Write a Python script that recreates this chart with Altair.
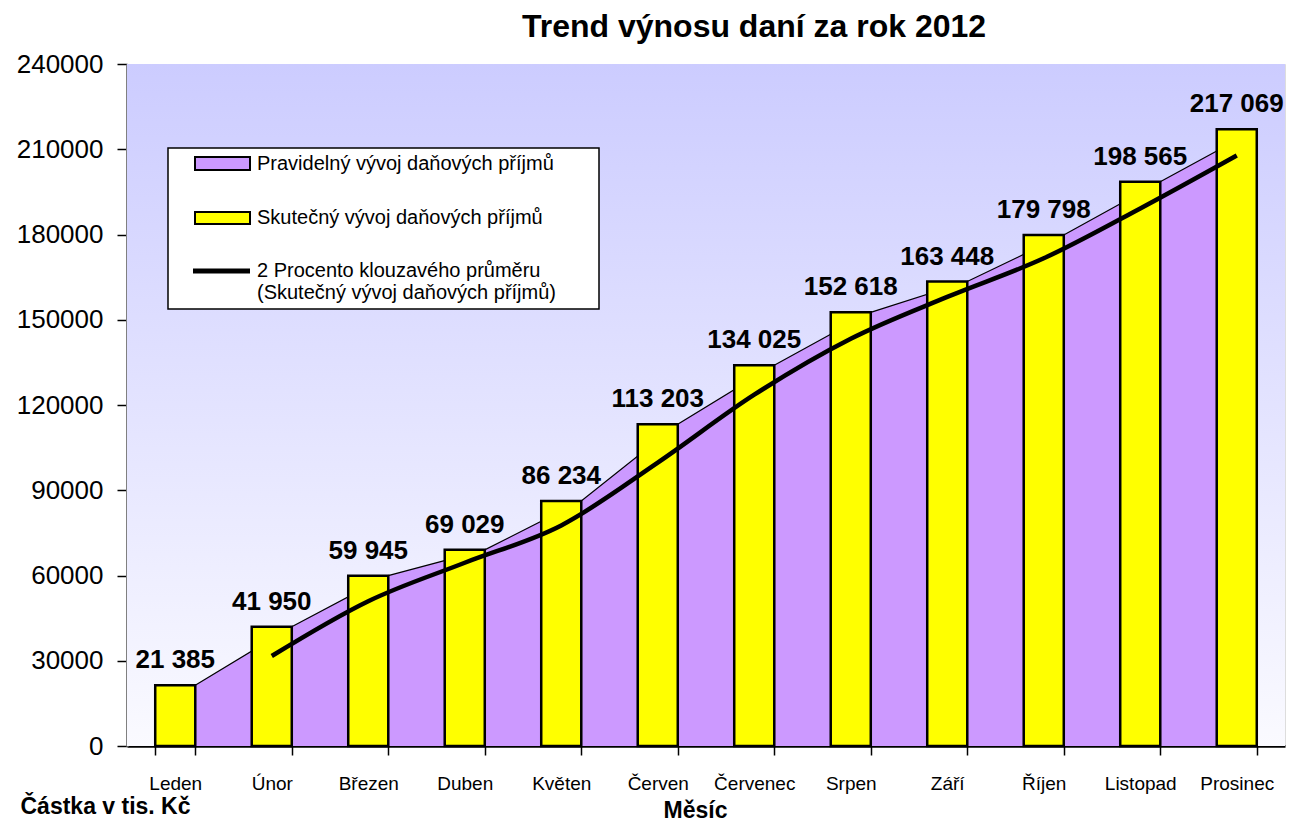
import altair as alt
import pandas as pd

months = ["Leden", "Únor", "Březen", "Duben", "Květen", "Červen",
          "Červenec", "Srpen", "Září", "Říjen", "Listopad", "Prosinec"]
actual = [21385, 41950, 59945, 69029, 86234, 113203,
          134025, 152618, 163448, 179798, 198565, 217069]
regular = [21385, 41950, 59945, 69029, 86234, 113203,
           134025, 152618, 163448, 179798, 198565, 217069]
ma_months = months[1:]
moving_avg = [31668, 50948, 64487, 77632, 99719, 123614,
              143322, 158033, 171623, 189182, 207817]
y_ticks = [0, 30000, 60000, 90000, 120000, 150000, 180000, 210000, 240000]

legend_labels = ["Pravidelný vývoj daňových příjmů",
                 "Skutečný vývoj daňových příjmů",
                 "2 Procento klouzavého průměru\n(Skutečný vývoj daňových příjmů)"]

W, H = 1158, 682
FONT = "Liberation Sans"

df = pd.DataFrame({
    "month": months,
    "actual": actual,
    "regular": regular,
    "label": [f"{v:,}".replace(",", " ") for v in actual],
})
ma_df = pd.DataFrame({"month": ma_months, "ma": moving_avg})
one = pd.DataFrame({"a": [0]})

x_enc = alt.X(
    "month:N", sort=months,
    scale=alt.Scale(domain=months, paddingInner=0.585, paddingOuter=0.2925),
    axis=alt.Axis(
        title="Měsíc", titleFont=FONT, titleFontSize=23, titleFontWeight="bold",
        titleColor="black", titleX=568, titleY=64, titleAlign="center",
        titleBaseline="middle",
        labelFont=FONT, labelFontSize=19, labelColor="black", labelAngle=0,
        labelPadding=19, tickBand="extent", tickSize=9, tickColor="black",
        tickWidth=1.5, domainColor="black", domainWidth=2.5,
    ),
)

y_axis = alt.Axis(
    title="Částka v tis. Kč", titleFont=FONT, titleFontSize=23,
    titleFontWeight="bold", titleColor="black", titleAngle=0,
    titleX=-22, titleY=742, titleAlign="center", titleBaseline="middle",
    values=y_ticks, format="d", labelFont=FONT, labelFontSize=26,
    labelColor="black", labelPadding=14, tickSize=10, tickColor="black",
    tickWidth=1.5, domainColor="#808080", domainWidth=3, grid=False,
)
y_scale = alt.Scale(domain=[0, 240000], nice=False, zero=True)

background = alt.Chart(one).mark_rect(
    fill=alt.Gradient(
        gradient="linear",
        stops=[alt.GradientStop(color="#CCCCFF", offset=0),
               alt.GradientStop(color="#FAFAFF", offset=1)],
        x1=0, x2=0, y1=0, y2=1,
    )
).encode(x=alt.value(0), x2=alt.value(W), y=alt.value(0), y2=alt.value(H))

area = alt.Chart(df).mark_area(color="#CC99FF", opacity=1, xOffset=20).encode(
    x=x_enc,
    y=alt.Y("regular:Q", scale=y_scale, axis=y_axis),
)
area_edge = alt.Chart(df).mark_line(color="black", strokeWidth=1.2, xOffset=20).encode(
    x=x_enc,
    y=alt.Y("regular:Q", scale=y_scale, axis=y_axis),
)

bars = alt.Chart(df).mark_bar(color="#FFFF00", stroke="black", strokeWidth=2.5).encode(
    x=x_enc,
    y=alt.Y("actual:Q", scale=y_scale, axis=y_axis),
)

ma_line = alt.Chart(ma_df).mark_line(color="black", strokeWidth=4.5, interpolate="monotone").encode(
    x=x_enc,
    y=alt.Y("ma:Q", scale=y_scale, axis=y_axis),
)

labels = alt.Chart(df).mark_text(
    font=FONT, fontSize=26, fontWeight="bold", color="black",
    baseline="middle", align="center", dy=-25,
).encode(
    x=x_enc,
    y=alt.Y("actual:Q", scale=y_scale, axis=y_axis),
    text="label:N",
)

# legend (drawn with marks)
leg_box = alt.Chart(one).mark_rect(fill="white", stroke="black", strokeWidth=1.5).encode(
    x=alt.value(41), x2=alt.value(472), y=alt.value(84), y2=alt.value(245))
leg_sw1 = alt.Chart(one).mark_rect(fill="#CC99FF", stroke="black", strokeWidth=2).encode(
    x=alt.value(68), x2=alt.value(123), y=alt.value(93), y2=alt.value(106))
leg_sw2 = alt.Chart(one).mark_rect(fill="#FFFF00", stroke="black", strokeWidth=2).encode(
    x=alt.value(68), x2=alt.value(123), y=alt.value(148), y2=alt.value(160))
leg_ln = alt.Chart(one).mark_rule(color="black", strokeWidth=5).encode(
    x=alt.value(66), x2=alt.value(123), y=alt.value(207))
leg_t1 = alt.Chart(one).mark_text(font=FONT, fontSize=20, align="left", baseline="middle", color="black").encode(
    x=alt.value(130), y=alt.value(100), text=alt.value(legend_labels[0]))
leg_t2 = alt.Chart(one).mark_text(font=FONT, fontSize=20, align="left", baseline="middle", color="black").encode(
    x=alt.value(130), y=alt.value(154), text=alt.value(legend_labels[1]))
leg_t3 = alt.Chart(one).mark_text(font=FONT, fontSize=20, align="left", baseline="middle",
                                   color="black", lineBreak="\n", lineHeight=22).encode(
    x=alt.value(130), y=alt.value(207), text=alt.value(legend_labels[2]))

chart = alt.layer(
    background, area, area_edge, bars, ma_line, labels,
    leg_box, leg_sw1, leg_sw2, leg_ln, leg_t1, leg_t2, leg_t3,
).properties(
    width=W, height=H,
    title=alt.TitleParams(
        "Trend výnosu daní za rok 2012", font=FONT, fontSize=32,
        fontWeight="bold", color="black", anchor="middle", dx=48, offset=7,
    ),
    padding={"left": 119, "top": 56, "right": 5, "bottom": 77},
    autosize=alt.AutoSizeParams(type="none"),
).configure_view(
    stroke="#808080", strokeWidth=3,
).configure(background="white")

chart.save("out.html", embed_options={"renderer": "svg", "actions": False})
